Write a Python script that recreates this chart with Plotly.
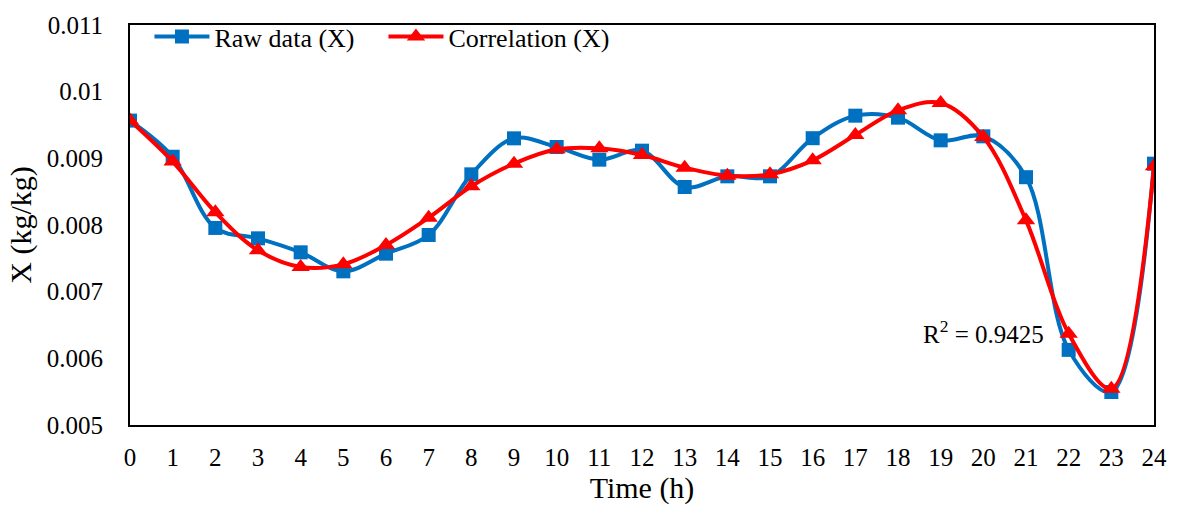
import plotly.graph_objects as go

hours = list(range(25))
raw_x = [0.009566, 0.009024, 0.007956, 0.007800, 0.007590, 0.007305, 0.007570, 0.007850,
         0.008760, 0.009300, 0.009170, 0.008980, 0.009115, 0.008570, 0.008730, 0.008730,
         0.009302, 0.009640, 0.009610, 0.009270, 0.009330, 0.008717, 0.006127, 0.005495,
         0.008920]
corr_x = [0.009566, 0.008951, 0.008190, 0.007620, 0.007371, 0.007410, 0.007700, 0.008110,
          0.008580, 0.008920, 0.009135, 0.009150, 0.009050, 0.008860, 0.008740, 0.008760,
          0.008970, 0.009350, 0.009720, 0.009830, 0.009320, 0.008070, 0.006370, 0.005545,
          0.008880]
y_ticks = [0.005, 0.006, 0.007, 0.008, 0.009, 0.01, 0.011]
y_tick_labels = ["0.005", "0.006", "0.007", "0.008", "0.009", "0.01", "0.011"]
r_squared = "0.9425"

font_family = "Liberation Serif"

fig = go.Figure()
fig.add_trace(go.Scatter(
    x=hours, y=raw_x, name="Raw data (X)", mode="lines+markers",
    line=dict(color="#0070C0", width=4, shape="spline", smoothing=1.0),
    marker=dict(symbol="square", size=14, color="#0070C0"),
))
fig.add_trace(go.Scatter(
    x=hours, y=corr_x, name="Correlation (X)", mode="lines+markers",
    line=dict(color="#FF0000", width=4, shape="spline", smoothing=1.0),
    marker=dict(symbol="triangle-up", size=16, color="#FF0000"),
))

fig.add_annotation(
    x=20, y=0.00640, xref="x", yref="y",
    text="R<sup>2</sup> = " + r_squared, showarrow=False,
    font=dict(family=font_family, size=25, color="black"),
)

fig.update_layout(
    width=1179, height=512,
    margin=dict(l=130, r=22, t=15, b=87),
    paper_bgcolor="white", plot_bgcolor="white",
    font=dict(family=font_family, size=25, color="black"),
    showlegend=True,
    legend=dict(
        orientation="h", x=0.019, y=1.03, xanchor="left", yanchor="top",
        bgcolor="rgba(0,0,0,0)", font=dict(family=font_family, size=26),
        itemwidth=55, tracegroupgap=0,
        entrywidth=164, entrywidthmode="pixels",
    ),
    xaxis=dict(
        range=[0, 24], tickmode="array", tickvals=hours,
        showgrid=False, zeroline=False, showline=True, mirror=True,
        linecolor="black", linewidth=2,
        ticks="outside", ticklen=9, tickcolor="rgba(0,0,0,0)",
        tickfont=dict(family=font_family, size=25),
        title=dict(text="Time (h)", font=dict(family=font_family, size=30), standoff=2),
    ),
    yaxis=dict(
        range=[0.005, 0.011], tickmode="array", tickvals=y_ticks,
        ticktext=y_tick_labels,
        showgrid=False, zeroline=False, showline=True, mirror=True,
        linecolor="black", linewidth=2,
        ticks="outside", ticklen=20, tickcolor="rgba(0,0,0,0)",
        tickfont=dict(family=font_family, size=25),
        title=dict(text="X (kg/kg)", font=dict(family=font_family, size=30), standoff=6),
    ),
)

fig.write_html("out.html")
